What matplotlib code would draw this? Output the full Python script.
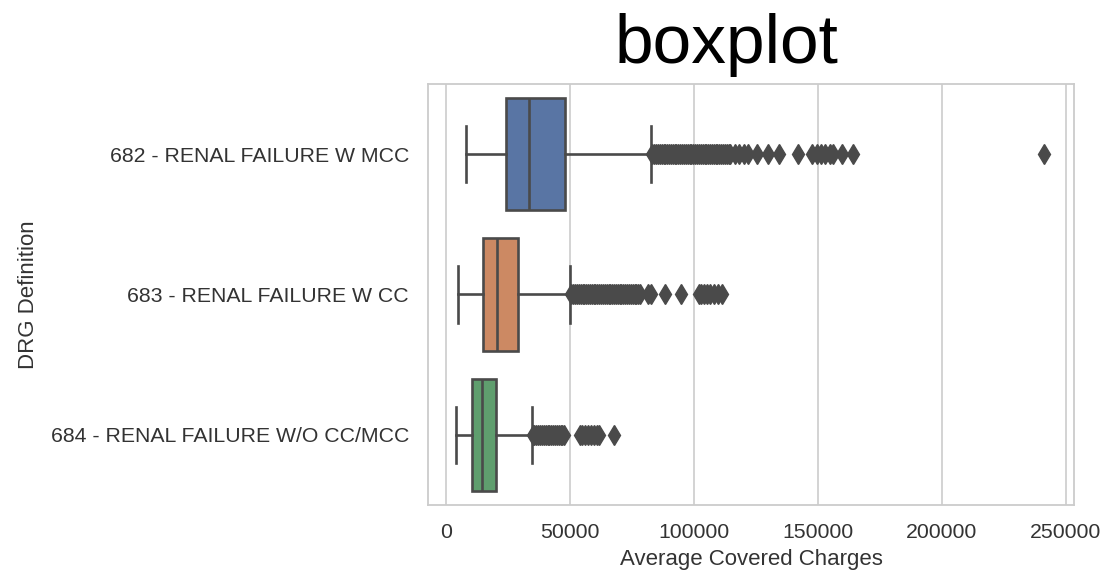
"""Horizontal box plot of average covered charges per DRG (renal failure groups)."""

import matplotlib
matplotlib.use("Agg")
import matplotlib.pyplot as plt

# ---------------------------------------------------------------------------
# Data
# ---------------------------------------------------------------------------
categories = [
    "682 - RENAL FAILURE W MCC",
    "683 - RENAL FAILURE W CC",
    "684 - RENAL FAILURE W/O CC/MCC",
]
whisker_low = [7900, 4970, 4040]
quartile_1 = [24350, 14800, 10400]
medians = [33360, 20700, 14400]
quartile_3 = [48150, 29200, 20200]
whisker_high = [82640, 50100, 34600]

fliers_682 = [
    83300, 84000, 84800, 85500, 86300, 87000, 87800, 88500, 89300, 90000,
    90800, 91500, 92300, 93000, 93800, 94500, 95300, 96000, 96800, 97500,
    98300, 99000, 99800, 100500, 101300, 102000, 102800, 103500, 104300,
    105000, 105800, 106500, 107300, 108000, 108800, 109500, 110300, 111000,
    111800, 112500, 113300, 114000, 114700, 116500, 118200, 120400, 122000,
    125500, 130000, 134300, 142000, 147700, 149500, 151200, 153000, 154800,
    156300, 159800, 164400, 241400,
]
fliers_683 = [
    50600, 51300, 52100, 52800, 53600, 54300, 55100, 55800, 56600, 57300,
    58100, 58800, 59600, 60300, 61100, 61800, 62600, 63300, 64100, 64800,
    65600, 66300, 67100, 67800, 68600, 69300, 70100, 70800, 71600, 72300,
    73100, 73800, 74600, 75300, 76100, 76800, 77600, 78400, 81400, 82600,
    88500, 94800, 101900, 103000, 104200, 105400, 106600, 108000, 109600,
    111400,
]
fliers_684 = [
    35000, 35700, 36500, 37200, 38000, 38700, 39500, 40200, 41000, 41700,
    42500, 43200, 44000, 44700, 45500, 46200, 47000, 47800, 54000, 55000,
    56200, 57300, 58500, 59600, 60800, 61600, 67600,
]
fliers = [fliers_682, fliers_683, fliers_684]

# ---------------------------------------------------------------------------
# Style
# ---------------------------------------------------------------------------
_BOX_COLORS = ["#5975a4", "#cc8963", "#5f9e6e"]
_LINE_GRAY = "#4a4a4a"
_TEXT = "#333333"
_GRID = "#cccccc"

plt.rcParams["font.family"] = ["Liberation Sans", "DejaVu Sans"]

fig = plt.figure(figsize=(11.07, 5.74), dpi=100)
ax = fig.add_axes([0.387, 0.12, 0.583, 0.734])

stats = []
for i, name in enumerate(categories):
    stats.append(dict(
        label=name,
        whislo=whisker_low[i],
        q1=quartile_1[i],
        med=medians[i],
        q3=quartile_3[i],
        whishi=whisker_high[i],
        fliers=fliers[i],
    ))

line_kw = dict(color=_LINE_GRAY, linewidth=1.9)
parts = ax.bxp(
    stats,
    positions=range(len(categories)),
    widths=0.8,
    orientation="horizontal",
    patch_artist=True,
    boxprops=dict(edgecolor=_LINE_GRAY, linewidth=1.9),
    medianprops=line_kw,
    whiskerprops=line_kw,
    capprops=line_kw,
    flierprops=dict(marker="d", markersize=10, markerfacecolor=_LINE_GRAY,
                    markeredgecolor=_LINE_GRAY, linestyle="none"),
)
for patch, color in zip(parts["boxes"], _BOX_COLORS):
    patch.set_facecolor(color)

# axes, grid, ticks
ax.set_xlim(-7100, 253300)
ax.set_ylim(len(categories) - 0.5, -0.5)
ax.set_xticks([0, 50000, 100000, 150000, 200000, 250000])
ax.set_yticks(range(len(categories)))
ax.set_yticklabels(categories)
ax.xaxis.grid(True, color=_GRID, linewidth=1.2)
ax.yaxis.grid(False)
ax.set_axisbelow(True)
for spine in ax.spines.values():
    spine.set_color(_GRID)
    spine.set_linewidth(1.3)
ax.tick_params(axis="both", length=0, colors=_TEXT, labelsize=15.3)
ax.tick_params(axis="y", pad=14)
ax.tick_params(axis="x", pad=13)

ax.set_xlabel("Average Covered Charges", fontsize=16, color=_TEXT, labelpad=5)
ax.set_ylabel("DRG Definition", fontsize=16, color=_TEXT, labelpad=8)
ax.set_title("boxplot", fontsize=50, color="black", pad=15, x=0.462)

fig.savefig("out.png", dpi=100)
